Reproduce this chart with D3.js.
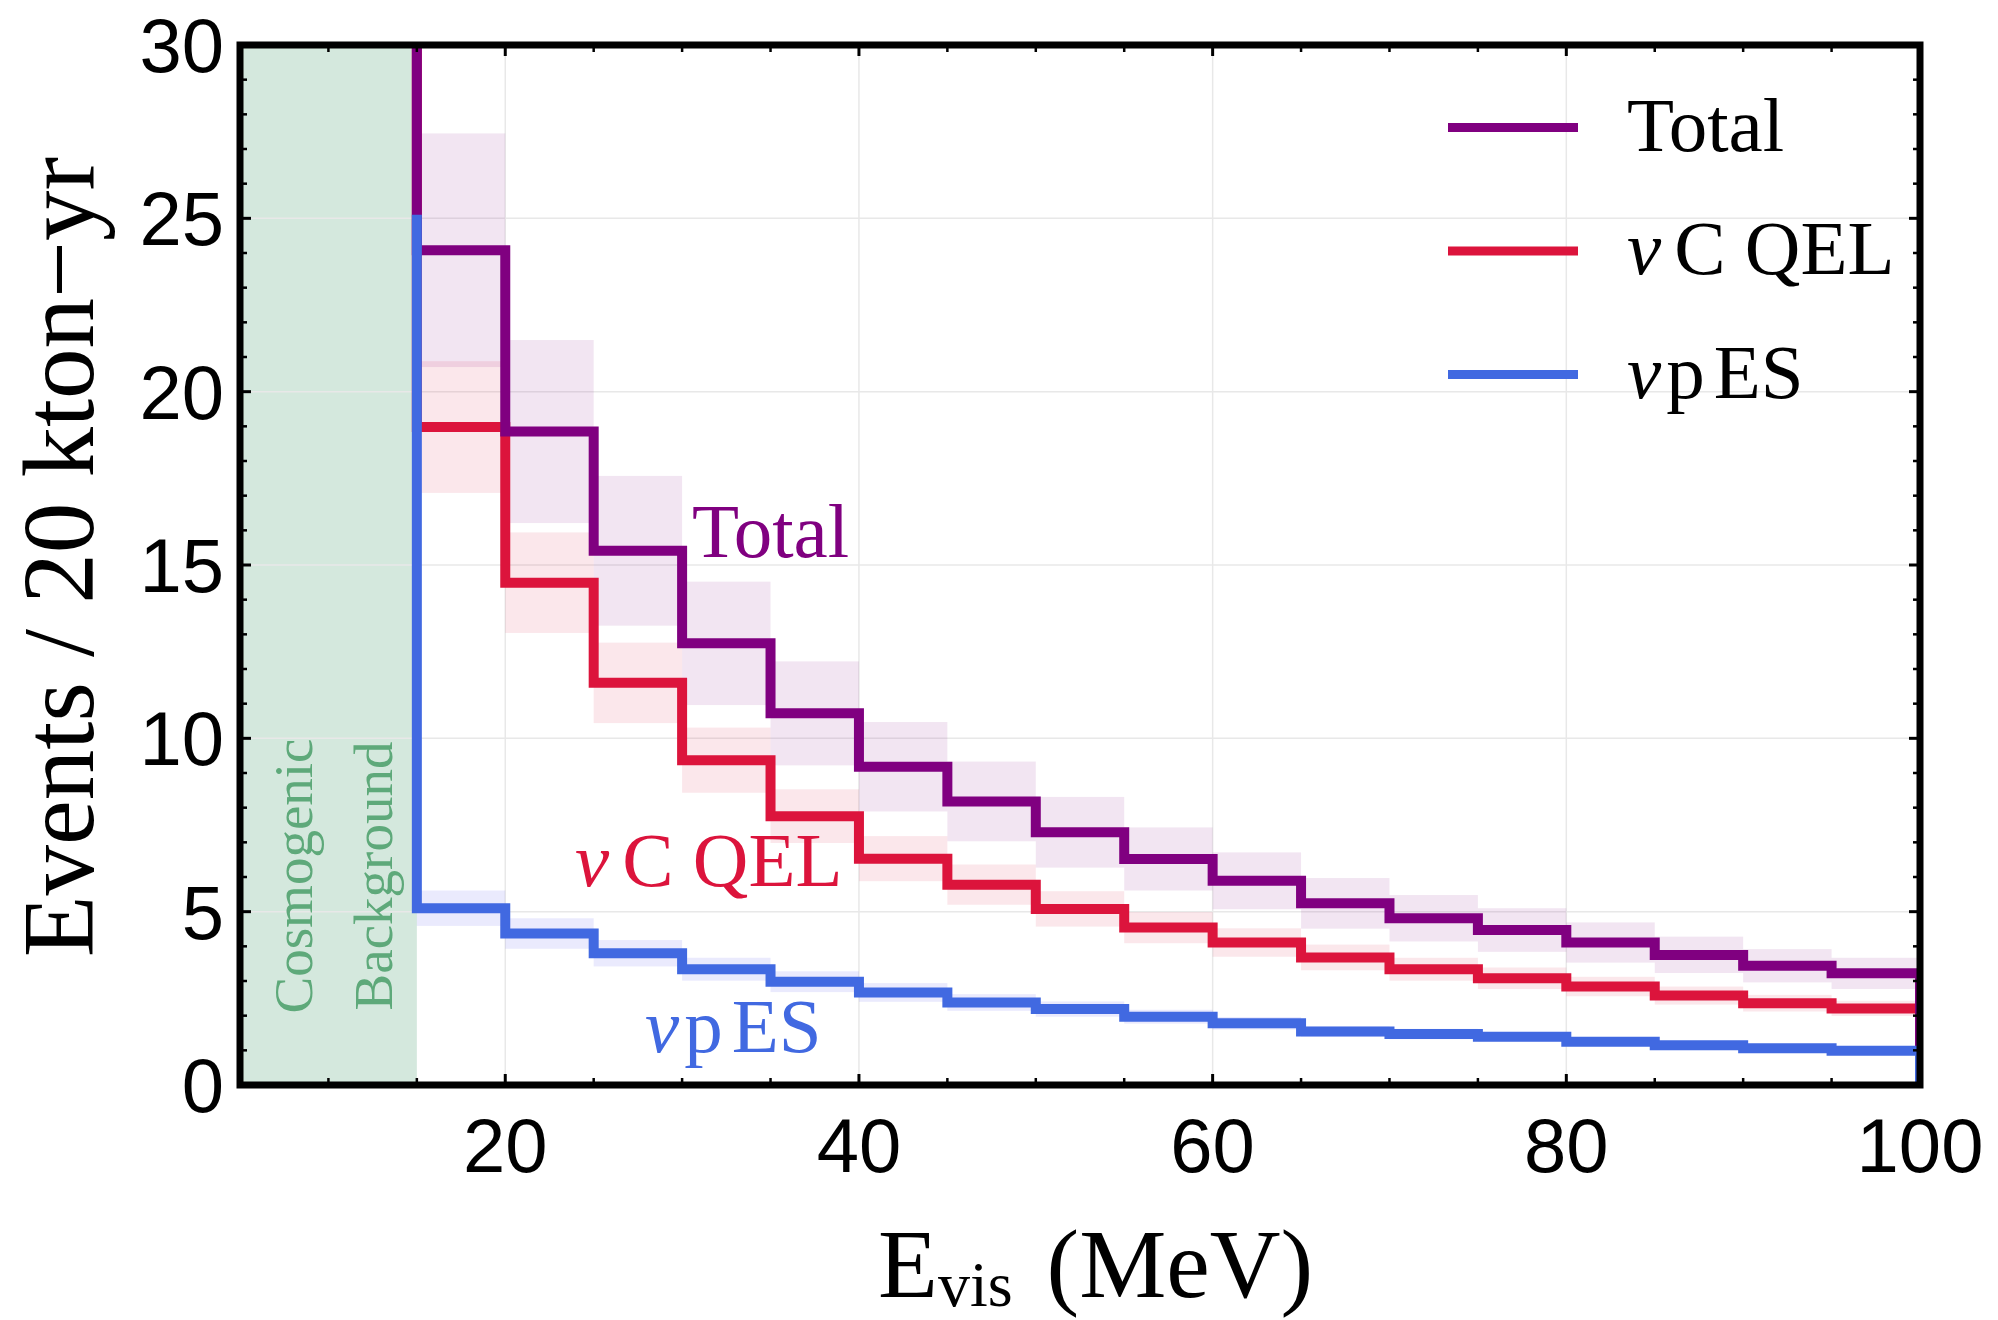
<!DOCTYPE html>
<html>
<head>
<meta charset="UTF-8">
<title>Events vs visible energy</title>
<style>
  body { margin: 0; padding: 0; background: #ffffff; }
  svg { display: block; }
</style>
<script src="https://d3js.org/d3.v7.min.js"></script>
</head>
<body>
<script>
  const width = 1998;
  const height = 1320;

  // bin left edges (MeV), last bin ends at 100
  const binEdges = [15, 20, 25, 30, 35, 40, 45, 50, 55, 60, 65, 70, 75, 80, 85, 90, 95];
  const binEnd = 100;

  const totalVals = [24.08, 18.85, 15.41, 12.74, 10.72, 9.18, 8.18, 7.29, 6.52, 5.89, 5.24, 4.81, 4.47, 4.11, 3.75, 3.44, 3.22];
  const totalHi   = [27.45, 21.49, 17.57, 14.52, 12.22, 10.47, 9.33, 8.31, 7.43, 6.71, 5.97, 5.48, 5.10, 4.69, 4.28, 3.92, 3.67];
  const totalLo   = [20.71, 16.21, 13.25, 10.96, 9.22, 7.89, 7.03, 6.27, 5.61, 5.07, 4.51, 4.14, 3.84, 3.53, 3.23, 2.96, 2.77];

  const qelVals = [18.98, 14.49, 11.60, 9.37, 7.75, 6.53, 5.78, 5.08, 4.54, 4.11, 3.68, 3.34, 3.08, 2.84, 2.58, 2.36, 2.21];
  const qelHi   = [20.88, 15.94, 12.76, 10.31, 8.53, 7.18, 6.36, 5.59, 4.99, 4.52, 4.05, 3.67, 3.39, 3.12, 2.84, 2.60, 2.43];
  const qelLo   = [17.08, 13.04, 10.44, 8.43, 6.98, 5.88, 5.20, 4.57, 4.09, 3.70, 3.31, 3.01, 2.77, 2.56, 2.32, 2.12, 1.99];

  const esVals = [5.10, 4.37, 3.80, 3.34, 2.98, 2.67, 2.38, 2.19, 1.97, 1.78, 1.54, 1.47, 1.39, 1.25, 1.15, 1.06, 0.99];
  const esHi   = [5.61, 4.81, 4.18, 3.67, 3.28, 2.94, 2.62, 2.41, 2.17, 1.96, 1.69, 1.62, 1.53, 1.38, 1.27, 1.17, 1.09];
  const esLo   = [4.59, 3.93, 3.42, 3.01, 2.68, 2.40, 2.14, 1.97, 1.77, 1.60, 1.39, 1.32, 1.25, 1.13, 1.04, 0.95, 0.89];

  // value each curve comes down from at the 15 MeV edge
  const leadIn = [31, 31, 25.1]; // total, qel, es

  const bgRange = [5, 15];
  const xTicks = [20, 40, 60, 80, 100];
  const yTicks = [0, 5, 10, 15, 20, 25, 30];

  const colors = { total: "#800080", qel: "#dc143c", es: "#4169e1" };

  const margin = { left: 240, right: 78, top: 45, bottom: 235 };
  const x = d3.scaleLinear().domain([5, 100]).range([margin.left, width - margin.right]);
  const y = d3.scaleLinear().domain([0, 30]).range([height - margin.bottom, margin.top]);

  const svg = d3.select("body").append("svg")
      .attr("width", width)
      .attr("height", height);

  svg.append("defs").append("clipPath").attr("id", "plotclip")
    .append("rect")
      .attr("x", x(5)).attr("y", y(30))
      .attr("width", x(100) - x(5)).attr("height", y(0) - y(30));

  const plot = svg.append("g").attr("clip-path", "url(#plotclip)");

  // cosmogenic background region
  plot.append("rect")
      .attr("x", x(bgRange[0])).attr("y", y(30))
      .attr("width", x(bgRange[1]) - x(bgRange[0]))
      .attr("height", y(0) - y(30))
      .attr("fill", "#d4e8dd");

  // grid
  plot.selectAll(".gx").data([20, 40, 60, 80]).enter().append("line")
      .attr("x1", d => x(d)).attr("x2", d => x(d))
      .attr("y1", y(0)).attr("y2", y(30))
      .attr("stroke", "#e8e8e8").attr("stroke-width", 1.5);
  plot.selectAll(".gy").data([5, 10, 15, 20, 25]).enter().append("line")
      .attr("x1", x(5)).attr("x2", x(100))
      .attr("y1", d => y(d)).attr("y2", d => y(d))
      .attr("stroke", "#e8e8e8").attr("stroke-width", 1.5);

  function binEndAt(i) { return i + 1 < binEdges.length ? binEdges[i + 1] : binEnd; }

  function drawBand(lo, hi, color, opacity) {
    plot.append("g").selectAll("rect").data(binEdges).enter().append("rect")
        .attr("x", (d, i) => x(d))
        .attr("width", (d, i) => x(binEndAt(i)) - x(d))
        .attr("y", (d, i) => y(hi[i]))
        .attr("height", (d, i) => y(lo[i]) - y(hi[i]))
        .attr("fill", color)
        .attr("fill-opacity", opacity);
  }

  drawBand(totalLo, totalHi, colors.total, 0.1);
  drawBand(qelLo, qelHi, colors.qel, 0.1);
  drawBand(esLo, esHi, "#5a5af0", 0.13);

  const stepLine = d3.line()
      .x(d => x(d[0]))
      .y(d => y(d[1]))
      .curve(d3.curveStepAfter);

  function drawStep(vals, lead, color) {
    const pts = [[binEdges[0], lead]];
    binEdges.forEach((e, i) => pts.push([e, vals[i]]));
    pts.push([binEnd, vals[vals.length - 1]]);
    pts.push([binEnd, 0]);
    plot.append("path")
        .attr("d", stepLine(pts))
        .attr("fill", "none")
        .attr("stroke", color)
        .attr("stroke-width", 10)
        .attr("stroke-linejoin", "miter")
        .attr("stroke-linecap", "butt");
  }

  drawStep(qelVals, leadIn[1], colors.qel);
  drawStep(totalVals, leadIn[0], colors.total);
  drawStep(esVals, leadIn[2], colors.es);

  // ticks (inside, all four sides)
  const tickG = svg.append("g").attr("stroke", "#000");
  const xMinor = d3.range(10, 100, 5);
  const yMinor = d3.range(1, 30, 1);
  xMinor.forEach(v => {
    const major = v % 20 === 0;
    const len = major ? 11 : 7;
    tickG.append("line").attr("x1", x(v)).attr("x2", x(v))
        .attr("y1", y(0)).attr("y2", y(0) - len).attr("stroke-width", major ? 3 : 2.5);
    tickG.append("line").attr("x1", x(v)).attr("x2", x(v))
        .attr("y1", y(30)).attr("y2", y(30) + len).attr("stroke-width", major ? 3 : 2.5);
  });
  yMinor.forEach(v => {
    const major = v % 5 === 0;
    const len = major ? 11 : 7;
    tickG.append("line").attr("y1", y(v)).attr("y2", y(v))
        .attr("x1", x(5)).attr("x2", x(5) + len).attr("stroke-width", major ? 3 : 2.5);
    tickG.append("line").attr("y1", y(v)).attr("y2", y(v))
        .attr("x1", x(100)).attr("x2", x(100) - len).attr("stroke-width", major ? 3 : 2.5);
  });

  // frame
  svg.append("rect")
      .attr("x", x(5)).attr("y", y(30))
      .attr("width", x(100) - x(5)).attr("height", y(0) - y(30))
      .attr("fill", "none").attr("stroke", "#000").attr("stroke-width", 7);

  // tick labels
  const sans = "'Liberation Sans', Arial, sans-serif";
  const serif = "'Liberation Serif', 'Times New Roman', serif";

  svg.append("g").selectAll("text").data(xTicks).enter().append("text")
      .attr("x", d => x(d)).attr("y", y(0) + 87)
      .attr("text-anchor", "middle")
      .attr("font-family", sans).attr("font-size", 76)
      .text(d => d);

  svg.append("g").selectAll("text").data(yTicks).enter().append("text")
      .attr("x", x(5) - 16).attr("y", d => y(d) + 27)
      .attr("text-anchor", "end")
      .attr("font-family", sans).attr("font-size", 76)
      .text(d => d);

  // axis titles
  const xt = svg.append("text")
      .attr("x", 878).attr("y", 1297)
      .attr("font-family", serif).attr("font-size", 98);
  xt.append("tspan").text("E");
  xt.append("tspan").attr("font-size", 64).attr("dy", 9).text("vis");
  xt.append("tspan").attr("dy", -9).attr("dx", 34).text("(MeV)");

  svg.append("text")
      .attr("transform", `translate(93, ${(y(0) + y(30)) / 2 - 8}) rotate(-90)`)
      .attr("text-anchor", "middle")
      .attr("font-family", serif).attr("font-size", 101)
      .text("Events / 20 kton\u2212yr");

  // cosmogenic label
  const bgText = svg.append("g")
      .attr("font-family", serif).attr("font-size", 55).attr("fill", "#5ea97a");
  bgText.append("text")
      .attr("transform", `translate(312, 876) rotate(-90)`)
      .attr("text-anchor", "middle").text("Cosmogenic");
  bgText.append("text")
      .attr("transform", `translate(392, 876) rotate(-90)`)
      .attr("text-anchor", "middle").text("Background");

  // labels on curves: italic nu followed by upright parts [text, dx]
  function nuLabel(g, px, py, parts, color) {
    const t = g.append("text").attr("x", px).attr("y", py)
        .attr("font-family", serif).attr("font-size", 77).attr("fill", color);
    t.append("tspan").attr("font-style", "italic").text("\u03bd");
    parts.forEach(p => t.append("tspan").attr("dx", p[1]).text(p[0]));
    return t;
  }

  const qelParts = [["C QEL", 13]];
  const esParts = [["p", 5], ["ES", 9]];

  svg.append("text").attr("x", 692).attr("y", 557)
      .attr("font-family", serif).attr("font-size", 77).attr("fill", colors.total)
      .text("Total");
  nuLabel(svg, 575, 886, qelParts, colors.qel);
  nuLabel(svg, 645, 1052, esParts, colors.es);

  // legend
  const legendItems = [
    { key: "total", y: 127.5 },
    { key: "qel", y: 251 },
    { key: "es", y: 374.5 }
  ];
  const lg = svg.append("g");
  legendItems.forEach(it => {
    lg.append("line")
        .attr("x1", 1448).attr("x2", 1578)
        .attr("y1", it.y).attr("y2", it.y)
        .attr("stroke", colors[it.key]).attr("stroke-width", 9);
    if (it.key === "total") {
      lg.append("text").attr("x", 1627).attr("y", it.y + 23)
          .attr("font-family", serif).attr("font-size", 77).attr("fill", "#000")
          .text("Total");
    } else {
      nuLabel(lg, 1627, it.y + 23, it.key === "qel" ? qelParts : esParts, "#000");
    }
  });
</script>
</body>
</html>
